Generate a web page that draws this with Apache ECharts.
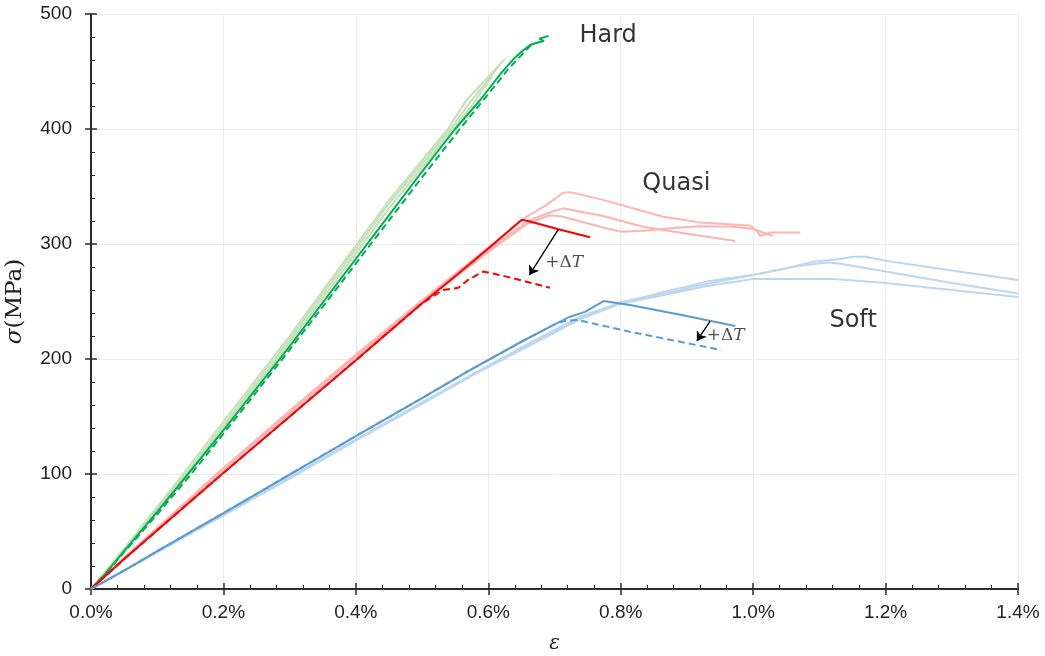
<!DOCTYPE html>
<html>
<head>
<meta charset="utf-8">
<script src="https://cdn.jsdelivr.net/npm/echarts@6/dist/echarts.min.js"></script>
<style>
  html, body { margin: 0; padding: 0; background: #fff; }
  #chart { width: 1045px; height: 656px; }
</style>
</head>
<body>
<div id="chart"></div>
<script>
// Stress–strain curves, strain in %, stress in MPa.
// Hard material: three reference tests (light) and the model (solid / dashed).
const hardRef1 = [[0,0],[0.05,35],[0.139,100],[0.3,220],[0.45,338],[0.539,400],[0.567,425],[0.625,461]];
const hardRef2 = [[0,0],[0.05,34],[0.143,100],[0.3,217],[0.45,335],[0.543,400],[0.572,423],[0.618,456]];
const hardRef3 = [[0,0],[0.05,33],[0.146,100],[0.3,214],[0.45,331],[0.547,400],[0.575,420],[0.605,445]];
const hardModel = [[0,0],[0.02,12],[0.05,33],[0.1,67],[0.1466,100],[0.2,138],[0.3,211],[0.4,287],[0.5,363],[0.55,400],[0.5875,425],[0.62,449],[0.64,462],[0.652,468],[0.663,473],[0.671,474.5],[0.684,476.5],[0.677,478.5],[0.68,480],[0.691,481]];
const hardHeated = [[0,0],[0.02,12],[0.05,32],[0.1,65],[0.15,99],[0.2,135],[0.3,208],[0.4,283],[0.5,358],[0.557,400],[0.5925,425],[0.63,452],[0.666,474]];

// Quasi material
const quasiRef1 = [[0,0],[0.05,27],[0.19,100],[0.3,155],[0.4,204],[0.5,251],[0.6,297],[0.658,323.7],[0.688,334],[0.713,344.6],[0.725,345],[0.769,339],[0.864,323.7],[0.92,318.8],[0.995,316],[1.005,312],[1.0105,307],[1.0255,310],[1.071,310]];
const quasiRef2 = [[0,0],[0.05,27],[0.19,100],[0.3,154],[0.4,203],[0.5,250],[0.6,295],[0.66,320],[0.69,327],[0.713,331],[0.739,328],[0.769,325],[0.834,315],[0.9,309],[0.973,302.6]];
const quasiRef3 = [[0,0],[0.05,26],[0.192,100],[0.3,153],[0.4,202],[0.5,249],[0.6,293],[0.66,318],[0.693,325],[0.713,323.7],[0.769,315],[0.8,310.7],[0.834,311.5],[0.87,313.5],[0.92,315.5],[0.97,315],[1.0,313],[1.03,307]];
const quasiModel = [[0,0],[0.05,26],[0.1,51],[0.198,100],[0.3,150],[0.4,199],[0.497,247],[0.55,272],[0.6,296],[0.6505,321],[0.66,320],[0.706,312.8],[0.7537,305.8]];
const quasiHeated = [[0,0],[0.05,26],[0.1,51],[0.198,100],[0.3,150],[0.4,199],[0.497,247],[0.515,254],[0.532,260],[0.555,262],[0.569,268.7],[0.5925,276],[0.618,273],[0.693,262]];

// Soft material
const softRef1 = [[0,0],[0.1,32],[0.2,65],[0.3,97],[0.4,130],[0.5,162],[0.5875,190.4],[0.65,210],[0.7385,236.8],[0.789,247],[0.8,249.5],[0.83,253],[0.859,257.5],[0.9,263],[0.93,267.5],[0.96,270],[1.0,273],[1.05,279],[1.091,284.6],[1.131,287],[1.151,289],[1.17,289],[1.2,285.5],[1.3,277],[1.4,268.7]];
const softRef2 = [[0,0],[0.1,32],[0.2,65],[0.3,97],[0.4,130],[0.5,162],[0.5875,190],[0.65,209],[0.74,236],[0.8,248.5],[0.859,256],[0.93,265.5],[1.0,273],[1.06,280],[1.11,284],[1.13,283],[1.2,276],[1.3,266],[1.4,257]];
const softRef3 = [[0,0],[0.1,32],[0.2,64],[0.3,96],[0.4,129],[0.5,161],[0.59,190],[0.65,208],[0.74,235],[0.8,248],[0.86,255],[0.93,263.5],[0.97,267],[1.0,269.5],[1.05,269.5],[1.121,269.5],[1.2,266],[1.3,260],[1.4,254]];
const softModel = [[0,0],[0.05,16],[0.1,33],[0.2,66],[0.3,99.5],[0.4,133],[0.5,166],[0.5725,190.4],[0.65,215],[0.703,231],[0.71,233],[0.7235,236.8],[0.746,241],[0.774,250.4],[0.814,247],[0.894,238],[0.973,228.7]];
const softHeated = [[0,0],[0.05,16],[0.1,33],[0.2,66],[0.3,99.5],[0.4,133],[0.5,166],[0.5725,190.4],[0.65,215],[0.703,231],[0.718,233.3],[0.735,233.9],[0.814,223.7],[0.952,207.8]];

// Arrows marking the effect of a temperature rise, and text annotations
const quasiArrow = [[0.706,313],[0.662,273]];
const softArrow = [[0.935,233],[0.915,215.7]];
const groupLabels = [
  { name: 'Hard', value: [0.781, 481] },
  { name: 'Quasi', value: [0.884, 352] },
  { name: 'Soft', value: [1.151, 233] }
];
const deltaLabels = [[0.686, 284], [0.93, 220]];

const xTicks = { min: 0, max: 1.4, interval: 0.2 };
const yTicks = { min: 0, max: 500, interval: 100 };

const C = {
  green: '#00b050', lightGreen: '#c5e0b4',
  red: '#ff0000', pink: '#ffb3b3',
  blue: '#5b9bd5', lightBlue: '#bdd7ee'
};

function curve(data, color, dashed) {
  return {
    type: 'line', data: data, symbol: 'none', silent: true,
    lineStyle: { color: color, width: 2, type: dashed ? [7, 4] : 'solid' },
    z: 3
  };
}
function arrow(coords) {
  return {
    type: 'lines', coordinateSystem: 'cartesian2d', silent: true, z: 5,
    symbol: ['none', 'arrow'], symbolSize: 9,
    lineStyle: { color: '#000', width: 1.3, opacity: 1 },
    data: [{ coords: coords }]
  };
}

const axisColor = '#2b2b2b';
const labelFont = { fontFamily: 'Liberation Sans, Arial, sans-serif', fontSize: 19, color: '#222' };

const chart = echarts.init(document.getElementById('chart'), null, { renderer: 'canvas' });
chart.setOption({
  animation: false,
  backgroundColor: '#fff',
  grid: { left: 91, right: 27, top: 14, bottom: 67, outerBoundsMode: 'none', containLabel: false },
  xAxis: [{
    type: 'value', min: xTicks.min, max: xTicks.max, interval: xTicks.interval,
    name: 'ε', nameLocation: 'middle', nameGap: 45,
    nameTextStyle: { fontFamily: 'DejaVu Serif, serif', fontStyle: 'italic', fontSize: 20, color: '#222' },
    axisLine: { show: true, onZero: false, lineStyle: { color: axisColor, width: 2 } },
    axisTick: { show: true, inside: true, length: 6, lineStyle: { color: axisColor, width: 1.5 } },
    minorTick: { show: true, splitNumber: 5, length: 4, lineStyle: { color: axisColor, width: 1 } },
    axisLabel: Object.assign({ margin: 14, formatter: v => v.toFixed(1) + '%' }, labelFont),
    splitLine: { show: true, lineStyle: { color: '#ebebeb', width: 1 } }
  }, {
    type: 'value', min: xTicks.min, max: xTicks.max, interval: xTicks.interval, position: 'bottom',
    axisLine: { show: false }, axisLabel: { show: false }, splitLine: { show: false },
    axisTick: { show: true, inside: false, length: 6, lineStyle: { color: axisColor, width: 1.5 } }
  }],
  yAxis: [{
    type: 'value', min: yTicks.min, max: yTicks.max, interval: yTicks.interval,
    name: '{i|σ}{n|(MPa)}', nameLocation: 'middle', nameGap: 64, nameRotate: 90,
    nameTextStyle: {
      rich: {
        i: { fontFamily: 'DejaVu Serif, serif', fontStyle: 'italic', fontSize: 23, color: '#222' },
        n: { fontFamily: 'DejaVu Serif, serif', fontSize: 23, color: '#222' }
      }
    },
    axisLine: { show: true, onZero: false, lineStyle: { color: axisColor, width: 2 } },
    axisTick: { show: true, inside: true, length: 6, lineStyle: { color: axisColor, width: 1.5 } },
    minorTick: { show: true, splitNumber: 5, length: 4, lineStyle: { color: axisColor, width: 1 } },
    axisLabel: Object.assign({ margin: 19 }, labelFont),
    splitLine: { show: true, lineStyle: { color: '#ebebeb', width: 1 } }
  }, {
    type: 'value', min: yTicks.min, max: yTicks.max, interval: yTicks.interval, position: 'left',
    axisLine: { show: false }, axisLabel: { show: false }, splitLine: { show: false },
    axisTick: { show: true, inside: false, length: 6, lineStyle: { color: axisColor, width: 1.5 } }
  }],
  series: [
    curve(hardRef1, C.lightGreen), curve(hardRef2, C.lightGreen), curve(hardRef3, C.lightGreen),
    curve(quasiRef1, C.pink), curve(quasiRef2, C.pink), curve(quasiRef3, C.pink),
    curve(softRef1, C.lightBlue), curve(softRef2, C.lightBlue), curve(softRef3, C.lightBlue),
    curve(hardHeated, C.green, true), curve(hardModel, C.green),
    curve(quasiHeated, C.red, true), curve(quasiModel, C.red),
    curve(softHeated, C.blue, true), curve(softModel, C.blue),
    arrow(quasiArrow), arrow(softArrow),
    {
      type: 'scatter', symbolSize: 0, silent: true, z: 6,
      data: groupLabels,
      label: {
        show: true, position: 'inside', formatter: p => p.name,
        fontFamily: 'DejaVu Sans, sans-serif', fontSize: 24, color: '#000',
        textBorderWidth: 0
      }
    },
    {
      type: 'scatter', symbolSize: 0, silent: true, z: 6,
      data: deltaLabels,
      label: {
        show: true, position: 'right', distance: 0,
        formatter: '{a|+Δ}{b|T}',
        rich: {
          a: { fontFamily: 'DejaVu Serif, serif', fontSize: 17, color: '#222' },
          b: { fontFamily: 'DejaVu Serif, serif', fontStyle: 'italic', fontSize: 17, color: '#222' }
        }
      }
    }
  ]
});
</script>
</body>
</html>
